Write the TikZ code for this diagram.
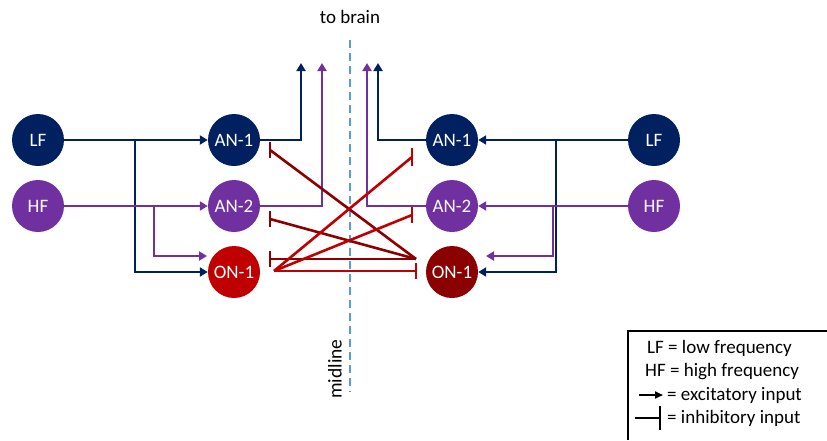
\documentclass[tikz,border=0pt]{standalone}
\usepackage{fontspec}
\setmainfont{Carlito}
\usetikzlibrary{arrows.meta}
\definecolor{navy}{HTML}{002060}
\definecolor{violet}{HTML}{7030A0}
\definecolor{brightred}{HTML}{C00000}
\definecolor{darkred}{HTML}{8B0000}
\definecolor{midblue}{HTML}{5B9BD5}
\tikzset{
  neuron/.style={circle, minimum size=52pt, inner sep=0pt, text=white, font=\fontsize{19}{19}\selectfont},
  exc/.style={line width=2.6pt, -{Triangle[length=8pt,width=9pt]}},
  inh/.style={line width=2.6pt},
  teebar/.style={line width=2.6pt},
  lbl/.style={font=\fontsize{19}{19}\selectfont, inner sep=0pt},
  legtext/.style={font=\fontsize{19}{19}\selectfont, inner sep=0pt, anchor=west}
}
\begin{document}
\begin{tikzpicture}[x=1pt,y=-1pt]
\useasboundingbox (0,0) rectangle (827,440);

% midline and labels
\coordinate (mtop) at (350,40);
\coordinate (mbot) at (350,392);
\draw[midblue, line width=1.5pt, dash pattern=on 8pt off 5pt] (mtop) -- (mbot);
\node[lbl] (tobrain) at (350,17) {to brain};
\node[lbl, rotate=90, font=\fontsize{19.5}{19.5}\selectfont] (midl) at (335,369) {midline};

% neurons, left side
\node[neuron, fill=navy] (LFl) at (38,140) {LF};
\node[neuron, fill=violet] (HFl) at (38,206) {HF};
\node[neuron, fill=navy] (ANl1) at (234,140) {AN-1};
\node[neuron, fill=violet] (ANl2) at (234,206) {AN-2};
\node[neuron, fill=brightred] (ONl) at (234,272) {ON-1};

% neurons, right side
\node[neuron, fill=navy] (LFr) at (654,140) {LF};
\node[neuron, fill=violet] (HFr) at (654,206) {HF};
\node[neuron, fill=navy] (ANr1) at (452,140) {AN-1};
\node[neuron, fill=violet] (ANr2) at (452,206) {AN-2};
\node[neuron, fill=darkred] (ONr) at (452,272) {ON-1};

% junctions and free ends
\coordinate (jl1) at (135,140);
\coordinate (jl2) at (154,206);
\coordinate (inl) at (207,256);
\coordinate (jr1) at (556,140);
\coordinate (jr2) at (553,206);
\coordinate (inr) at (486,256);
\coordinate (ol1) at (301,63);
\coordinate (ol2) at (322,63);
\coordinate (or2) at (367,63);
\coordinate (or1) at (378,63);

% excitatory inputs, left
\draw[exc, navy] (LFl) -- (ANl1);
\draw[exc, navy] (jl1) |- (ONl);
\draw[exc, violet] (HFl) -- (ANl2);
\draw[exc, violet] (jl2) |- (inl);

% excitatory inputs, right
\draw[exc, navy] (LFr) -- (ANr1);
\draw[exc, navy] (jr1) |- (ONr);
\draw[exc, violet] (HFr) -- (ANr2);
\draw[exc, violet] (jr2) |- (inr);

% outputs to brain
\draw[exc, navy] (ANl1) -| (ol1);
\draw[exc, violet] (ANl2) -| (ol2);
\draw[exc, violet] (ANr2) -| (or2);
\draw[exc, navy] (ANr1) -| (or1);

% inhibitory projections
\coordinate (srcl) at (274,271);
\coordinate (srcr) at (416,259);
\coordinate (tr1) at (412,157);
\coordinate (tr2) at (412,215);
\coordinate (tr3) at (416,271);
\coordinate (tl1) at (270,150);
\coordinate (tl2) at (270,219);
\coordinate (tl3) at (270,259);

\draw[inh, darkred] (srcr) -- (tl1);
\draw[inh, darkred] (srcr) -- (tl2);
\draw[inh, darkred] (srcr) -- (tl3);
\draw[teebar, darkred] ([yshift=-8pt]tl1) -- ([yshift=8pt]tl1);
\draw[teebar, darkred] ([yshift=-8pt]tl2) -- ([yshift=8pt]tl2);
\draw[teebar, darkred] ([yshift=-8pt]tl3) -- ([yshift=8pt]tl3);

\draw[inh, brightred] (srcl) -- (tr1);
\draw[inh, brightred] (srcl) -- (tr2);
\draw[inh, brightred] (srcl) -- (tr3);
\draw[teebar, brightred] ([yshift=-9pt]tr1) -- ([yshift=9pt]tr1);
\draw[teebar, brightred] ([yshift=-8pt]tr2) -- ([yshift=8pt]tr2);
\draw[teebar, brightred] ([yshift=-8pt]tr3) -- ([yshift=8pt]tr3);

% legend
\coordinate (lgA) at (628,440);
\coordinate (lgB) at (628,331);
\coordinate (lgC) at (827,331);
\draw[line width=1.8pt] (lgA) -- (lgB) -- (lgC);
\node[legtext] (lg1) at (647,348) {LF = low frequency};
\node[legtext] (lg2) at (645,372) {HF = high frequency};
\coordinate (ea) at (639,395);
\coordinate (eb) at (663,395);
\draw[line width=1.8pt, -{Triangle[length=8pt,width=7pt]}] (ea) -- (eb);
\node[legtext] (lg3) at (667,395) {= excitatory input};
\coordinate (ia) at (635,418);
\coordinate (ib) at (660,418);
\draw[line width=1.8pt] (ia) -- (ib);
\draw[line width=1.8pt] ([yshift=-12pt]ib) -- ([yshift=12pt]ib);
\node[legtext] (lg4) at (667,418) {= inhibitory input};
\end{tikzpicture}
\end{document}
